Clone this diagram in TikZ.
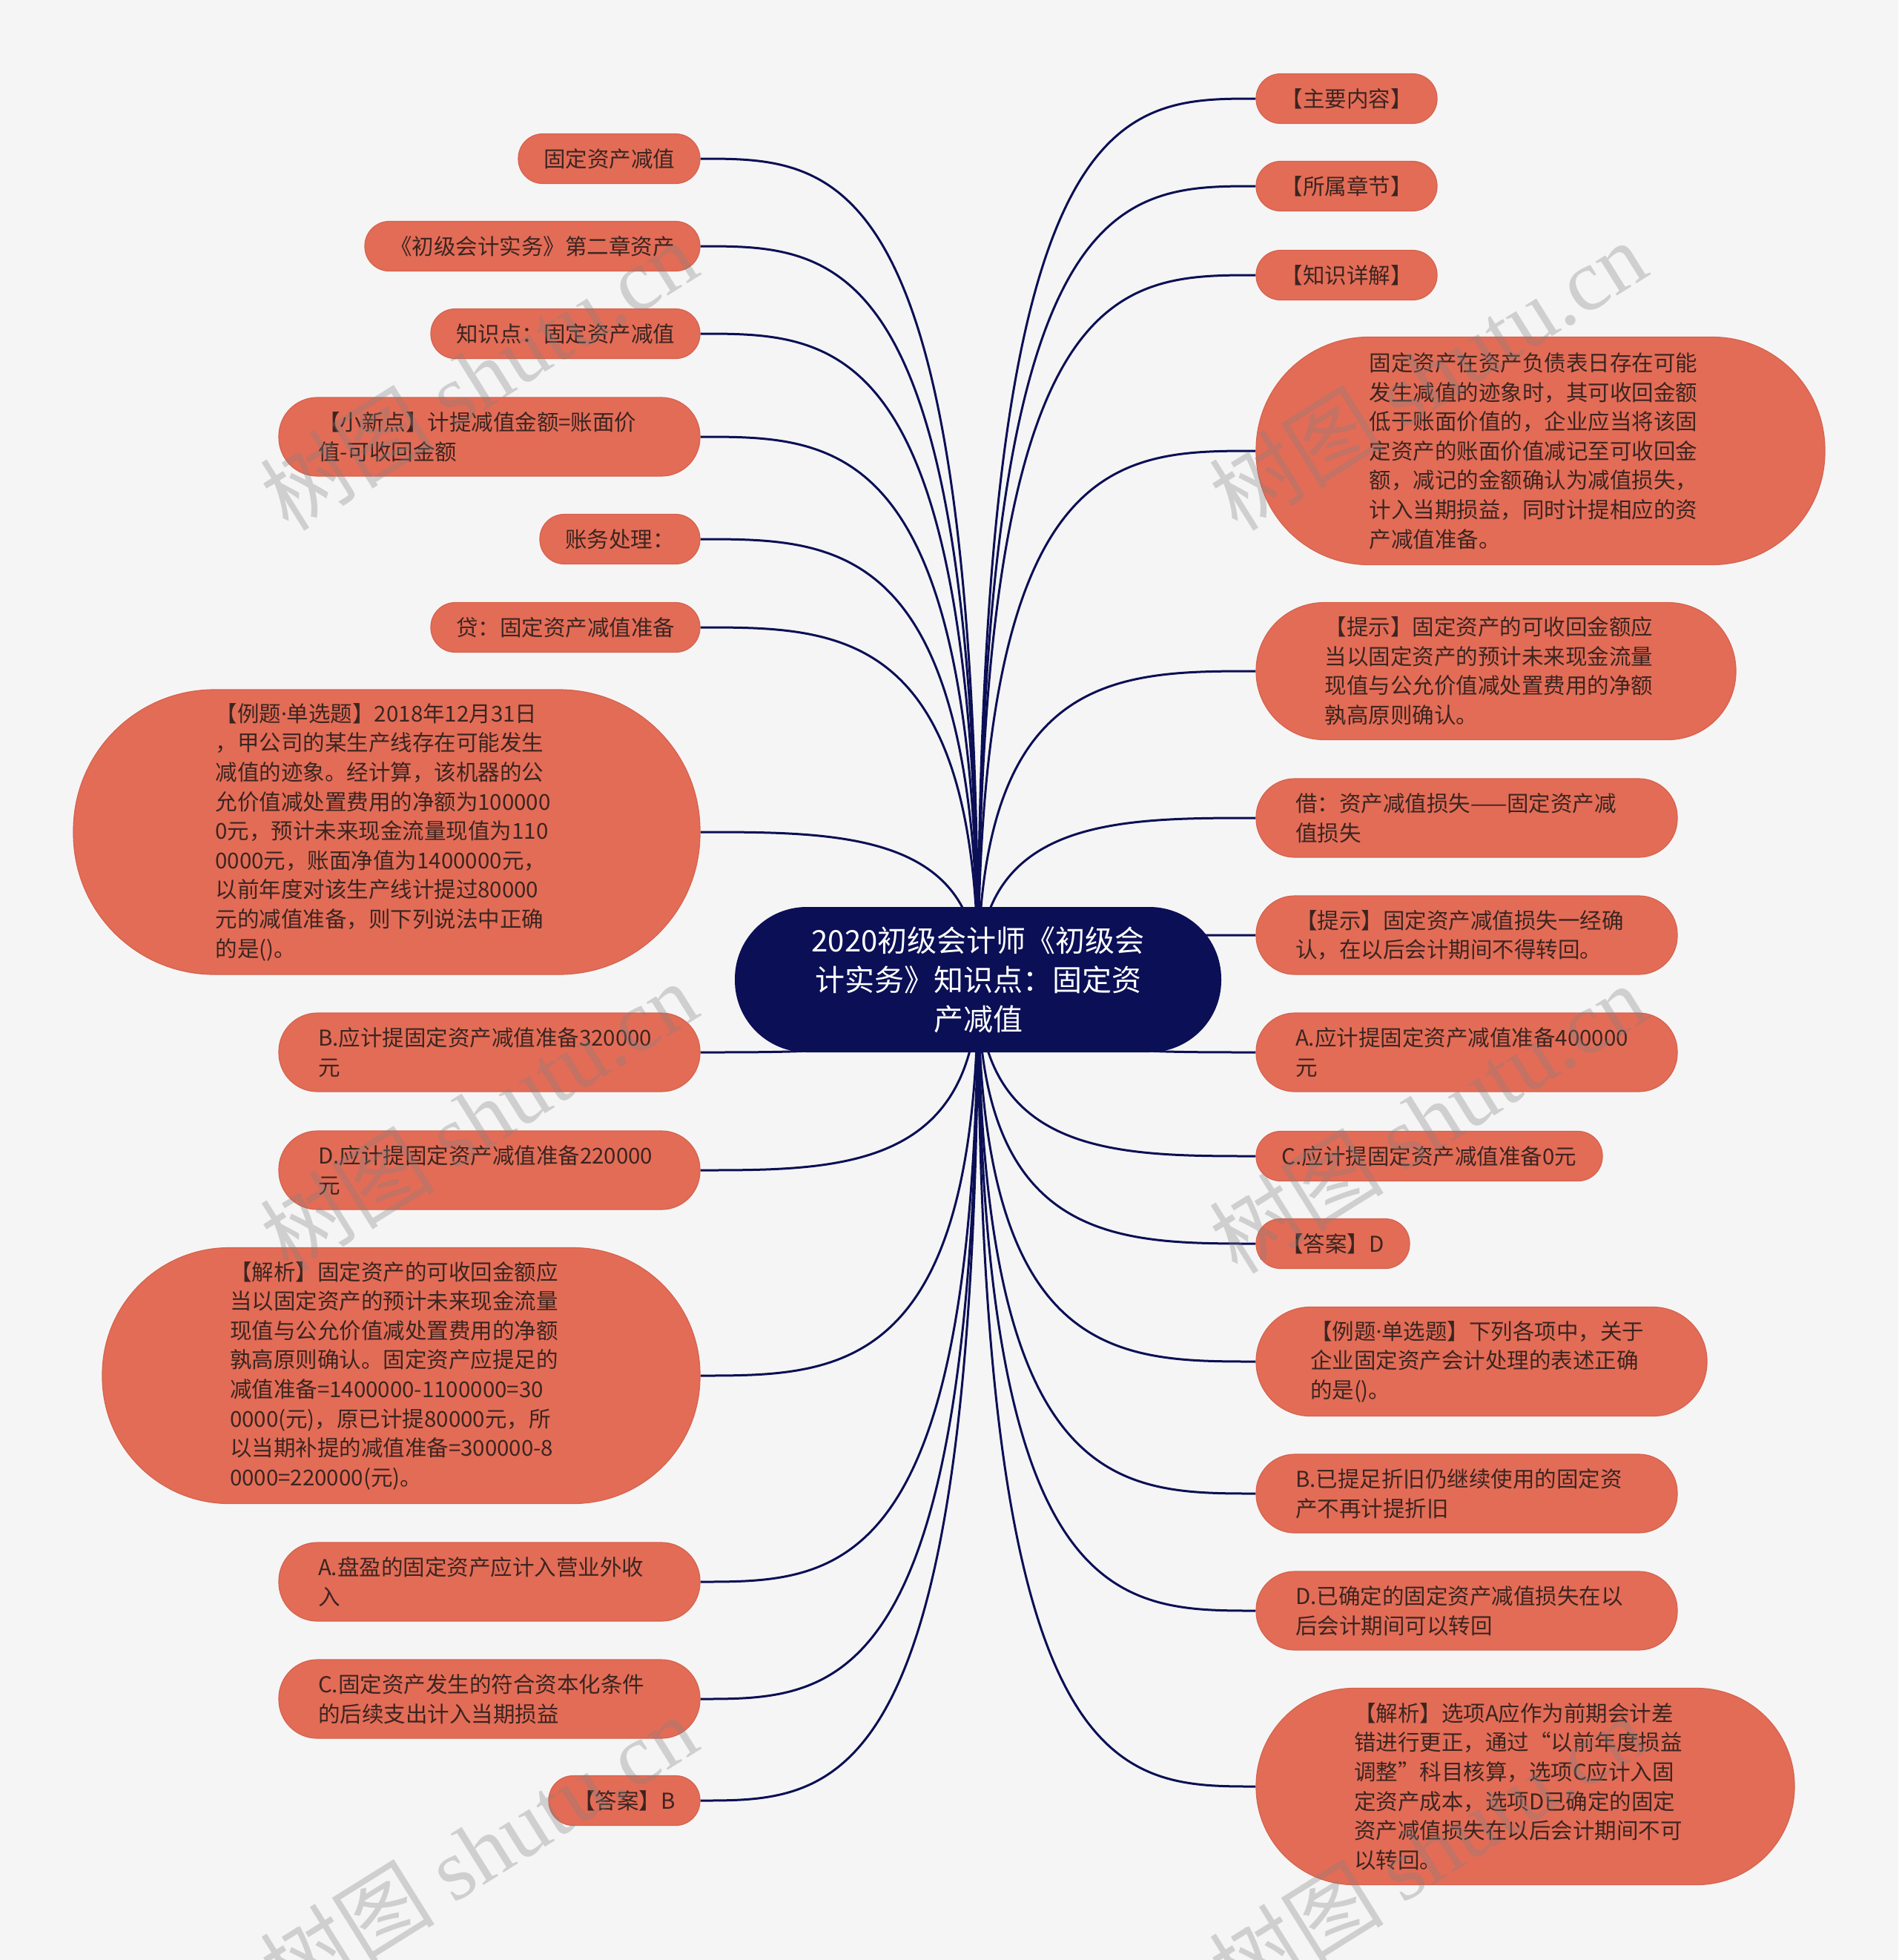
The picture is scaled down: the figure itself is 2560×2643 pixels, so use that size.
\documentclass[tikz,border=0pt]{standalone}
\usepackage{fontspec}
\setmainfont{Noto Sans CJK SC}
\newfontfamily\wmlatin{Liberation Serif}
\newfontfamily\latinsans{Noto Sans}
\newcommand\mdot{{\latinsans ·}}
\usetikzlibrary{calc}
\definecolor{bgc}{HTML}{F5F5F5}
\definecolor{nodefill}{HTML}{E36C57}
\definecolor{nodeline}{HTML}{D6624E}
\definecolor{navy}{HTML}{0B0F55}
\definecolor{txt}{HTML}{3B2520}
\pgfdeclarelayer{bg}
\pgfsetlayers{bg,main}
\newcommand\linkL[1]{\draw[conn] (ctr.center) .. controls (ctr.center |- #1.east) and ($(ctr.center |- #1.east)!0.5!(#1.east)$) .. (#1.east);}
\newcommand\linkR[1]{\draw[conn] (ctr.center) .. controls (ctr.center |- #1.west) and ($(ctr.center |- #1.west)!0.5!(#1.west)$) .. (#1.west);}
\begin{document}
\begin{tikzpicture}[x=1pt,y=-1pt,
  leaf/.style={fill=nodefill, draw=nodeline, line width=1.2pt, text=txt, inner sep=0pt,
    font=\fontsize{29.5}{39.6}\selectfont},
  one/.style={leaf, minimum height=67pt, rounded corners=33pt, minimum width=#1},
  multi/.style n args={3}{leaf, text width=462pt, align=left, minimum width=#1,
    minimum height=#2, rounded corners=#3},
  conn/.style={draw=navy, line width=3pt},
  wm/.style={text=gray, text opacity=0.32, rotate=32, inner sep=0pt,
    font=\fontsize{118}{118}\selectfont}
]
\useasboundingbox (0,0) rectangle (2560,2643);

% centre
\node[fill=navy, text=white, minimum width=656pt, minimum height=196pt, rounded corners=97pt,
  align=center, inner sep=0pt, font=\fontsize{40}{53}\selectfont] (ctr) at (1319,1321)
  {2020初级会计师《初级会\\计实务》知识点：固定资\\产减值};

% left side
\node[one=245pt] (l1) at (821.5,214) {固定资产减值};
\node[one=452pt] (l2) at (718,332) {《初级会计实务》第二章资产};
\node[one=363pt] (l3) at (762.5,450) {知识点：固定资产减值};
\node[multi={568pt}{106pt}{52pt}] (l4) at (660,589) {【小新点】计提减值金额=账面价\\值-可收回金额};
\node[one=216pt] (l5) at (836,727) {账务处理：};
\node[one=363pt] (l6) at (762.5,846) {贷：固定资产减值准备};
\node[multi={845pt}{384pt}{190pt}] (l7) at (521.5,1122) {【例题\mdot 单选题】2018年12月31日\\，甲公司的某生产线存在可能发生\\减值的迹象。经计算，该机器的公\\允价值减处置费用的净额为100000\\0元，预计未来现金流量现值为110\\0000元，账面净值为1400000元，\\以前年度对该生产线计提过80000\\元的减值准备，则下列说法中正确\\的是()。};
\node[multi={568pt}{106pt}{52pt}] (l8) at (660,1419) {B.应计提固定资产减值准备320000\\元};
\node[multi={568pt}{106pt}{52pt}] (l9) at (660,1578) {D.应计提固定资产减值准备220000\\元};
\node[multi={806pt}{345pt}{171pt}] (l10) at (541,1855) {【解析】固定资产的可收回金额应\\当以固定资产的预计未来现金流量\\现值与公允价值减处置费用的净额\\孰高原则确认。固定资产应提足的\\减值准备=1400000-1100000=30\\0000(元)，原已计提80000元，所\\以当期补提的减值准备=300000-8\\0000=220000(元)。};
\node[multi={568pt}{106pt}{52pt}] (l11) at (660,2133) {A.盘盈的固定资产应计入营业外收\\入};
\node[multi={568pt}{106pt}{52pt}] (l12) at (660,2291) {C.固定资产发生的符合资本化条件\\的后续支出计入当期损益};
\node[one=204pt] (l13) at (842,2428) {【答案】B};

% right side
\node[one=244pt] (r1) at (1816,133) {【主要内容】};
\node[one=244pt] (r2) at (1816,251) {【所属章节】};
\node[one=244pt] (r3) at (1816,371) {【知识详解】};
\node[multi={767pt}{307pt}{152pt}] (r4) at (2077.5,608) {固定资产在资产负债表日存在可能\\发生减值的迹象时，其可收回金额\\低于账面价值的，企业应当将该固\\定资产的账面价值减记至可收回金\\额，减记的金额确认为减值损失，\\计入当期损益，同时计提相应的资\\产减值准备。};
\node[multi={647pt}{185pt}{92pt}] (r5) at (2017.5,905) {【提示】固定资产的可收回金额应\\当以固定资产的预计未来现金流量\\现值与公允价值减处置费用的净额\\孰高原则确认。};
\node[multi={568pt}{106pt}{52pt}] (r6) at (1978,1103) {借：资产减值损失——固定资产减\\值损失};
\node[multi={568pt}{106pt}{52pt}] (r7) at (1978,1261) {【提示】固定资产减值损失一经确\\认，在以后会计期间不得转回。};
\node[multi={568pt}{106pt}{52pt}] (r8) at (1978,1419) {A.应计提固定资产减值准备400000\\元};
\node[one=467pt] (r9) at (1927.5,1559) {C.应计提固定资产减值准备0元};
\node[one=207pt] (r10) at (1797.5,1677) {【答案】D};
\node[multi={608pt}{147pt}{73pt}] (r11) at (1998,1836) {【例题\mdot 单选题】下列各项中，关于\\企业固定资产会计处理的表述正确\\的是()。};
\node[multi={568pt}{106pt}{52pt}] (r12) at (1978,2014) {B.已提足折旧仍继续使用的固定资\\产不再计提折旧};
\node[multi={568pt}{106pt}{52pt}] (r13) at (1978,2172) {D.已确定的固定资产减值损失在以\\后会计期间可以转回};
\node[multi={726pt}{265pt}{132pt}] (r14) at (2057,2409) {【解析】选项A应作为前期会计差\\错进行更正，通过“以前年度损益\\调整”科目核算，选项C应计入固\\定资产成本，选项D已确定的固定\\资产减值损失在以后会计期间不可\\以转回。};

\begin{pgfonlayer}{bg}
\fill[bgc] (0,0) rectangle (2560,2643);
\foreach \n in {l1,l2,l3,l4,l5,l6,l7,l8,l9,l10,l11,l12,l13} {\linkL{\n}}
\foreach \n in {r1,r2,r3,r4,r5,r6,r7,r8,r9,r10,r11,r12,r13,r14} {\linkR{\n}}
\end{pgfonlayer}

% watermarks
\node[wm] (wm1) at (645,506) {树图 {\wmlatin shutu.cn}};
\node[wm] (wm2) at (1925,506) {树图 {\wmlatin shutu.cn}};
\node[wm] (wm3) at (645,1505) {树图 {\wmlatin shutu.cn}};
\node[wm] (wm4) at (1925,1508) {树图 {\wmlatin shutu.cn}};
\node[wm] (wm5) at (645,2494) {树图 {\wmlatin shutu.cn}};
\node[wm] (wm6) at (1925,2494) {树图 {\wmlatin shutu.cn}};
\end{tikzpicture}
\end{document}
